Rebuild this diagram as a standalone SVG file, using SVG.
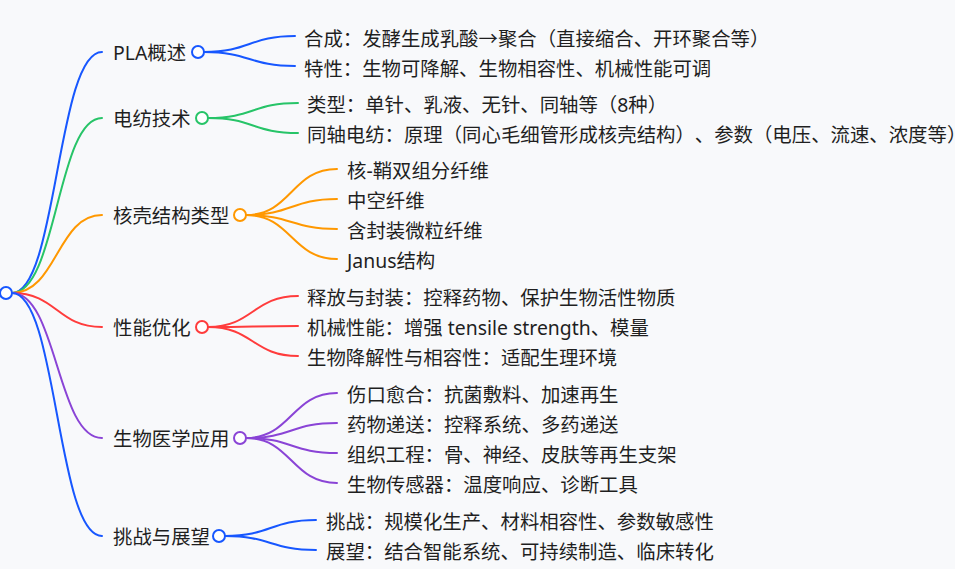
<svg xmlns="http://www.w3.org/2000/svg" width="955" height="569" viewBox="0 0 955 569">
<style>
text{font-family:"Noto Sans","Noto Sans CJK SC",sans-serif;font-size:19.4px;fill:#1f1f1f;dominant-baseline:central;text-spacing-trim:space-all}
.lk{fill:none;stroke-width:2;stroke-linecap:round}
.nd{fill:#ffffff;stroke-width:2}
.b{stroke:#1757ff}.g{stroke:#27c468}.o{stroke:#ff9800}.r{stroke:#ff3c3c}.p{stroke:#8a44d6}
</style>
<rect width="955" height="569" fill="#f8f9fb"/>
<g id="connectors">
<path class="lk b" d="M12,293 C57,293 57,52 102,52"/>
<path class="lk g" d="M12,293 C57,293 57,118 102,118"/>
<path class="lk o" d="M12,293 C57,293 57,215 102,215"/>
<path class="lk r" d="M12,293 C57,293 57,327 102,327"/>
<path class="lk p" d="M12,293 C57,293 57,438 102,438"/>
<path class="lk b" d="M12,293 C57,293 57,536 102,536"/>
<path class="lk b" d="M204,52 C249.5,52 249.5,36 295,36"/>
<path class="lk b" d="M204,52 C249.5,52 249.5,66 295,66"/>
<path class="lk g" d="M208,118 C253,118 253,103 298,103"/>
<path class="lk g" d="M208,118 C253,118 253,133 298,133"/>
<path class="lk o" d="M246,215 C291.5,215 291.5,169 337,169"/>
<path class="lk o" d="M246,215 C291.5,215 291.5,199 337,199"/>
<path class="lk o" d="M246,215 C291.5,215 291.5,229 337,229"/>
<path class="lk o" d="M246,215 C291.5,215 291.5,259 337,259"/>
<path class="lk r" d="M208,327 C253,327 253,296 298,296"/>
<path class="lk r" d="M208,327 C253,327 253,326 298,326"/>
<path class="lk r" d="M208,327 C253,327 253,356 298,356"/>
<path class="lk p" d="M246,438 C291.5,438 291.5,393 337,393"/>
<path class="lk p" d="M246,438 C291.5,438 291.5,423 337,423"/>
<path class="lk p" d="M246,438 C291.5,438 291.5,453 337,453"/>
<path class="lk p" d="M246,438 C291.5,438 291.5,483 337,483"/>
<path class="lk b" d="M225,536 C270.5,536 270.5,520 316,520"/>
<path class="lk b" d="M225,536 C270.5,536 270.5,550 316,550"/>
</g>
<g id="root"><circle class="nd b" cx="6" cy="293" r="6"/></g>
<g id="n1"><text x="113" y="52">PLA概述</text><circle class="nd b" cx="198" cy="52" r="6"/></g>
<g id="n1a"><text x="304" y="38">合成：发酵生成乳酸→聚合（直接缩合、开环聚合等）</text></g>
<g id="n1b"><text x="304" y="68">特性：生物可降解、生物相容性、机械性能可调</text></g>
<g id="n2"><text x="113" y="118">电纺技术</text><circle class="nd g" cx="202" cy="118" r="6"/></g>
<g id="n2a"><text x="307" y="104">类型：单针、乳液、无针、同轴等（8种）</text></g>
<g id="n2b"><text x="307" y="134">同轴电纺：原理（同心毛细管形成核壳结构）、参数（电压、流速、浓度等）</text></g>
<g id="n3"><text x="113" y="215">核壳结构类型</text><circle class="nd o" cx="240" cy="215" r="6"/></g>
<g id="n3a"><text x="347" y="170">核-鞘双组分纤维</text></g>
<g id="n3b"><text x="347" y="200">中空纤维</text></g>
<g id="n3c"><text x="347" y="230">含封装微粒纤维</text></g>
<g id="n3d"><text x="347" y="260">Janus结构</text></g>
<g id="n4"><text x="113" y="327">性能优化</text><circle class="nd r" cx="202" cy="327" r="6"/></g>
<g id="n4a"><text x="307" y="297">释放与封装：控释药物、保护生物活性物质</text></g>
<g id="n4b"><text x="307" y="327">机械性能：增强 tensile strength、模量</text></g>
<g id="n4c"><text x="307" y="357">生物降解性与相容性：适配生理环境</text></g>
<g id="n5"><text x="113" y="438">生物医学应用</text><circle class="nd p" cx="240" cy="438" r="6"/></g>
<g id="n5a"><text x="347" y="394">伤口愈合：抗菌敷料、加速再生</text></g>
<g id="n5b"><text x="347" y="424">药物递送：控释系统、多药递送</text></g>
<g id="n5c"><text x="347" y="454">组织工程：骨、神经、皮肤等再生支架</text></g>
<g id="n5d"><text x="347" y="484">生物传感器：温度响应、诊断工具</text></g>
<g id="n6"><text x="113" y="536">挑战与展望</text><circle class="nd b" cx="219" cy="536" r="6"/></g>
<g id="n6a"><text x="326" y="521">挑战：规模化生产、材料相容性、参数敏感性</text></g>
<g id="n6b"><text x="326" y="551">展望：结合智能系统、可持续制造、临床转化</text></g>
</svg>
